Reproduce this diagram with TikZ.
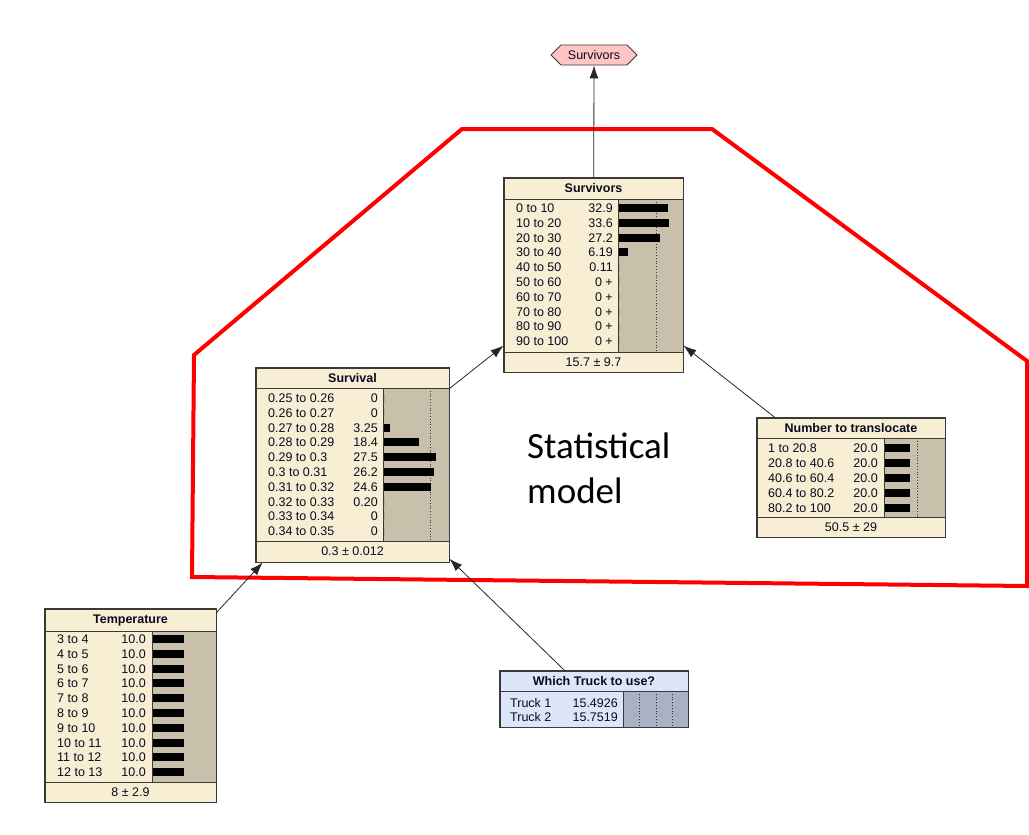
\documentclass[tikz,border=0pt]{standalone}
\usepackage{fontspec}
\setmainfont{Liberation Sans}
\newfontfamily\calfont{Carlito}
\usetikzlibrary{arrows.meta,shapes.symbols}
\definecolor{beige}{HTML}{F7EED3}
\definecolor{bararea}{HTML}{C8C0AB}
\definecolor{bluebg}{HTML}{DCE6F8}
\definecolor{bluebar}{HTML}{A9B1C2}
\definecolor{edge}{HTML}{3A3A3A}
\definecolor{txt}{HTML}{0A0A20}
\definecolor{hexpink}{HTML}{FFC4C4}
\begin{document}
\begin{tikzpicture}[x=1pt,y=-1pt,
 font=\fontsize{12.5}{14}\selectfont,
 bnbox/.style={draw=edge,line width=0.9pt,inner sep=0pt,fill=beige},
 lbl/.style={inner sep=0pt,text=txt,font=\fontsize{12.5}{14}\selectfont},
 ttl/.style={inner sep=0pt,text=txt,font=\fontsize{12.5}{14}\selectfont\bfseries},
 sep/.style={draw=edge,line width=0.9pt},
 dots/.style={draw=edge,line width=0.8pt,dotted},
 bar/.style={fill=black},
 arr/.style={draw=black!85,line width=0.8pt,-{Latex[length=13pt,width=9pt]}},
 region/.style={draw=red,line width=4pt,line join=miter}]
\useasboundingbox (0,0) rectangle (1029,835);

% statistical model region
\draw[region] (192,577) -- (194,355) -- (462,129) -- (712,129) -- (1027,361) -- (1027,586) -- cycle;
\node[inner sep=0pt,anchor=north west,align=left,font=\calfont\fontsize{37}{45}\selectfont] (stat) at (527,433) {Statistical\\model};

% output hexagon
\node[signal,signal to=west and east,draw=edge,line width=0.8pt,fill=hexpink,minimum height=20pt,minimum width=86pt,inner sep=1pt,text=txt] (hex) at (594,55) {Survivors};

% ---------- Survivors ----------
\node[bnbox,minimum width=179pt,minimum height=194pt] (surv) at (593.5,275) {};
\fill[bararea] (618,199) rectangle (683,352);
\draw[sep] (504,199) -- (683,199) (504,352) -- (683,352) (618,199) -- (618,352);
\draw[dots] (656,199) -- (656,352);
\draw[sep] (surv.north west) rectangle (surv.south east);
\node[ttl] (surv-t) at (593.5,188.5) {Survivors};
\node[lbl] (surv-f) at (593.5,362) {15.7 ± 9.7};
\foreach \l/\v/\b [count=\i from 0] in {0 to 10/32.9/32.9,10 to 20/33.6/33.6,20 to 30/27.2/27.2,30 to 40/6.19/6.19,40 to 50/0.11/0,50 to 60/0 +/0,60 to 70/0 +/0,70 to 80/0 +/0,80 to 90/0 +/0,90 to 100/0 +/0}{
  \node[lbl,anchor=base west] (surv-l\i) at (516,{208+14.8*\i+4.5}) {\l};
  \node[lbl,anchor=base east] (surv-v\i) at (613,{208+14.8*\i+4.5}) {\v};
  \fill[bar] (619,{208+14.8*\i-4}) rectangle ++({1.5*\b},8);
}

% ---------- Survival ----------
\node[bnbox,minimum width=193pt,minimum height=194pt] (survl) at (352.5,465) {};
\fill[bararea] (383,388) rectangle (449,541);
\draw[sep] (256,388) -- (449,388) (256,541) -- (449,541) (383,388) -- (383,541);
\draw[dots] (430,388) -- (430,541);
\draw[sep] (survl.north west) rectangle (survl.south east);
\node[ttl] (survl-t) at (352.5,378) {Survival};
\node[lbl] (survl-f) at (352.5,551.5) {0.3 ± 0.012};
\foreach \l/\v/\b [count=\i from 0] in {0.25 to 0.26/0/0,0.26 to 0.27/0/0,0.27 to 0.28/3.25/3.25,0.28 to 0.29/18.4/18.4,0.29 to 0.3/27.5/27.5,0.3 to 0.31/26.2/26.2,0.31 to 0.32/24.6/24.6,0.32 to 0.33/0.20/0,0.33 to 0.34/0/0,0.34 to 0.35/0/0}{
  \node[lbl,anchor=base west] (survl-l\i) at (268,{398+14.8*\i+4.5}) {\l};
  \node[lbl,anchor=base east] (survl-v\i) at (378,{398+14.8*\i+4.5}) {\v};
  \fill[bar] (384,{398+14.8*\i-4}) rectangle ++({1.9*\b},8);
}

% ---------- Number to translocate ----------
\node[bnbox,minimum width=188pt,minimum height=119pt] (num) at (851,477.5) {};
\fill[bararea] (884,438) rectangle (945,517);
\draw[sep] (757,438) -- (945,438) (757,517) -- (945,517) (884,438) -- (884,517);
\draw[dots] (917,438) -- (917,517);
\draw[sep] (num.north west) rectangle (num.south east);
\node[ttl] (num-t) at (851,428) {Number to translocate};
\node[lbl] (num-f) at (851,527) {50.5 ± 29};
\foreach \l/\v/\b [count=\i from 0] in {1 to 20.8/20.0/20,20.8 to 40.6/20.0/20,40.6 to 60.4/20.0/20,60.4 to 80.2/20.0/20,80.2 to 100/20.0/20}{
  \node[lbl,anchor=base west] (num-l\i) at (768,{448+15*\i+4.5}) {\l};
  \node[lbl,anchor=base east] (num-v\i) at (878,{448+15*\i+4.5}) {\v};
  \fill[bar] (885,{448+15*\i-4}) rectangle ++({1.25*\b},8);
}

% ---------- Temperature ----------
\node[bnbox,minimum width=171pt,minimum height=193pt] (temp) at (130.5,705.5) {};
\fill[bararea] (152,631) rectangle (216,782);
\draw[sep] (45,631) -- (216,631) (45,782) -- (216,782) (152,631) -- (152,782);
\draw[sep] (temp.north west) rectangle (temp.south east);
\node[ttl] (temp-t) at (130.5,620) {Temperature};
\node[lbl] (temp-f) at (130.5,792) {8 ± 2.9};
\foreach \l/\v/\b [count=\i from 0] in {3 to 4/10.0/10,4 to 5/10.0/10,5 to 6/10.0/10,6 to 7/10.0/10,7 to 8/10.0/10,8 to 9/10.0/10,9 to 10/10.0/10,10 to 11/10.0/10,11 to 12/10.0/10,12 to 13/10.0/10}{
  \node[lbl,anchor=base west] (temp-l\i) at (57,{639+14.8*\i+4.5}) {\l};
  \node[lbl,anchor=base east] (temp-v\i) at (146,{639+14.8*\i+4.5}) {\v};
  \fill[bar] (153,{639+14.8*\i-4}) rectangle ++({3.1*\b},8);
}

% ---------- Which Truck to use? ----------
\node[bnbox,fill=bluebg,minimum width=188pt,minimum height=56pt] (truck) at (594,699) {};
\fill[bluebar] (623,691) rectangle (688,727);
\draw[sep] (500,691) -- (688,691) (623,691) -- (623,727);
\draw[dots] (639,691) -- (639,727) (656,691) -- (656,727) (672,691) -- (672,727);
\draw[sep] (truck.north west) rectangle (truck.south east);
\node[ttl] (truck-t) at (594,681) {Which Truck to use?};
\foreach \l/\v [count=\i from 0] in {Truck 1/15.4926,Truck 2/15.7519}{
  \node[lbl,anchor=base west] (truck-l\i) at (510,{703+14*\i+4.5}) {\l};
  \node[lbl,anchor=base east] (truck-v\i) at (618,{703+14*\i+4.5}) {\v};
}

% ---------- connectors ----------
\draw[arr] (surv) -- (hex);
\draw[arr] (survl) -- (surv);
\draw[arr] (num) -- (surv);
\draw[arr] (temp) -- (survl);
\draw[arr] (truck) -- (survl);
\end{tikzpicture}
\end{document}
